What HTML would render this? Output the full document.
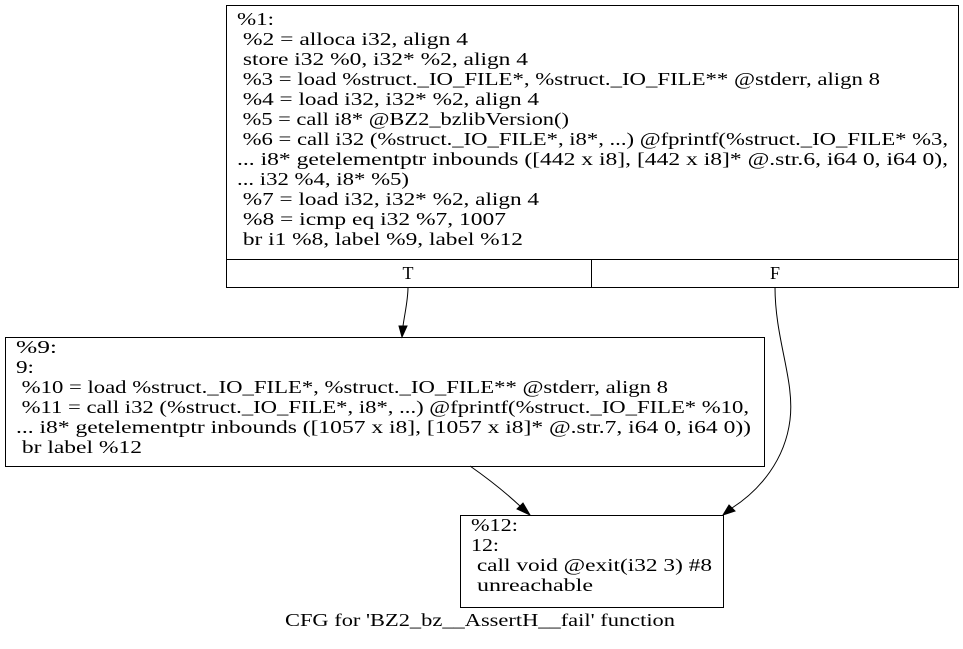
<!DOCTYPE html>
<html><head><meta charset="utf-8"><style>
html,body{margin:0;padding:0;background:#fff;}
svg text{font-family:"Liberation Serif",serif;font-size:18px;fill:#000;white-space:pre;}
</style></head><body>
<svg width="963" height="644" viewBox="0 0 963 644" xmlns="http://www.w3.org/2000/svg">
<rect x="0" y="0" width="963" height="644" fill="#fff"/>
<g fill="none" stroke="#000" stroke-width="1">
<rect x="226.5" y="5.5" width="732" height="282"/>
<line x1="226.5" y1="259.5" x2="958.5" y2="259.5"/>
<line x1="591.5" y1="259.5" x2="591.5" y2="287.5"/>
<rect x="5.5" y="337.5" width="759" height="129"/>
<rect x="460.5" y="515.5" width="263" height="92"/>
<path d="M408,287 C408,300 405,312 403,326"/>
<path d="M775,287 C775,340 795,380 790,420 C785,460 760,490 732,508"/>
<path d="M470,466 C490,480 505,492 520,506"/>
</g>
<g fill="#000" stroke="#000">
<polygon points="399,326 407,326 402,337"/>
<polygon points="729,505 735,511 723,515"/>
<polygon points="517,509 523,503 530,515"/>
</g>
<text x="237" y="25" textLength="37" lengthAdjust="spacingAndGlyphs">%1:</text>
<text x="237" y="45" textLength="231" lengthAdjust="spacingAndGlyphs"> %2 = alloca i32, align 4</text>
<text x="237" y="65" textLength="291" lengthAdjust="spacingAndGlyphs"> store i32 %0, i32* %2, align 4</text>
<text x="237" y="85" textLength="643" lengthAdjust="spacingAndGlyphs"> %3 = load %struct._IO_FILE*, %struct._IO_FILE** @stderr, align 8</text>
<text x="237" y="105" textLength="302" lengthAdjust="spacingAndGlyphs"> %4 = load i32, i32* %2, align 4</text>
<text x="237" y="125" textLength="332" lengthAdjust="spacingAndGlyphs"> %5 = call i8* @BZ2_bzlibVersion()</text>
<text x="237" y="145" textLength="711" lengthAdjust="spacingAndGlyphs"> %6 = call i32 (%struct._IO_FILE*, i8*, ...) @fprintf(%struct._IO_FILE* %3,</text>
<text x="237" y="165" textLength="711" lengthAdjust="spacingAndGlyphs">... i8* getelementptr inbounds ([442 x i8], [442 x i8]* @.str.6, i64 0, i64 0),</text>
<text x="237" y="185" textLength="172" lengthAdjust="spacingAndGlyphs">... i32 %4, i8* %5)</text>
<text x="237" y="205" textLength="302" lengthAdjust="spacingAndGlyphs"> %7 = load i32, i32* %2, align 4</text>
<text x="237" y="225" textLength="269" lengthAdjust="spacingAndGlyphs"> %8 = icmp eq i32 %7, 1007</text>
<text x="237" y="245" textLength="286" lengthAdjust="spacingAndGlyphs"> br i1 %8, label %9, label %12</text>
<text x="408" y="279" text-anchor="middle">T</text>
<text x="775" y="279" text-anchor="middle">F</text>
<text x="16" y="353" textLength="41" lengthAdjust="spacingAndGlyphs">%9:</text>
<text x="16" y="373" textLength="18" lengthAdjust="spacingAndGlyphs">9:</text>
<text x="16" y="393" textLength="652" lengthAdjust="spacingAndGlyphs"> %10 = load %struct._IO_FILE*, %struct._IO_FILE** @stderr, align 8</text>
<text x="16" y="413" textLength="733" lengthAdjust="spacingAndGlyphs"> %11 = call i32 (%struct._IO_FILE*, i8*, ...) @fprintf(%struct._IO_FILE* %10,</text>
<text x="16" y="433" textLength="735" lengthAdjust="spacingAndGlyphs">... i8* getelementptr inbounds ([1057 x i8], [1057 x i8]* @.str.7, i64 0, i64 0))</text>
<text x="16" y="453" textLength="126" lengthAdjust="spacingAndGlyphs"> br label %12</text>
<text x="471" y="531" textLength="47" lengthAdjust="spacingAndGlyphs">%12:</text>
<text x="471" y="551" textLength="28" lengthAdjust="spacingAndGlyphs">12:</text>
<text x="471" y="571" textLength="241" lengthAdjust="spacingAndGlyphs"> call void @exit(i32 3) #8</text>
<text x="471" y="591" textLength="122" lengthAdjust="spacingAndGlyphs"> unreachable</text>
<text x="285" y="626" textLength="390" lengthAdjust="spacingAndGlyphs">CFG for 'BZ2_bz__AssertH__fail' function</text>
</svg>
</body></html>
